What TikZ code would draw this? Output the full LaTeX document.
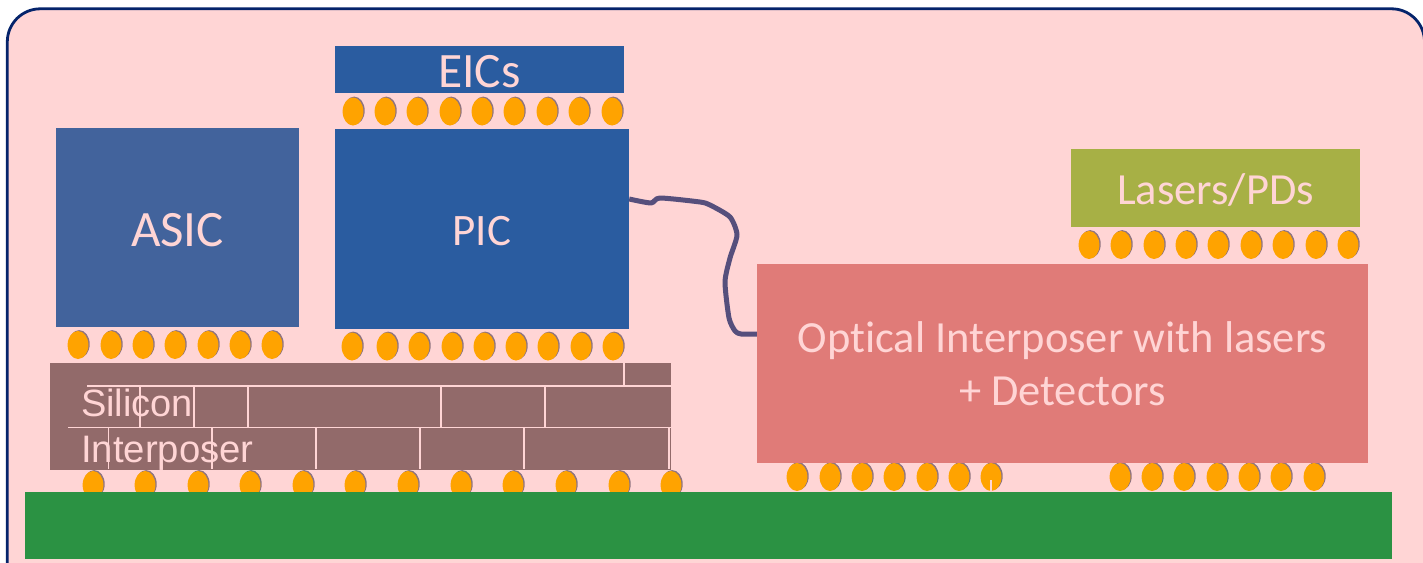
\documentclass[tikz,border=0pt]{standalone}
\usepackage{fontspec}
\setmainfont{Carlito}[Ligatures=NoCommon]
\newfontfamily\arialfont{Liberation Sans}
\usetikzlibrary{calc}
\definecolor{panelpink}{HTML}{FFD5D5}
\definecolor{panelblue}{HTML}{05246B}
\definecolor{asicblue}{HTML}{42639C}
\definecolor{picblue}{HTML}{2A5CA0}
\definecolor{laserolive}{HTML}{A7B045}
\definecolor{opticalred}{HTML}{E07B78}
\definecolor{siliconbrown}{HTML}{926A6A}
\definecolor{boardgreen}{HTML}{2B9243}
\definecolor{bumporange}{HTML}{FFA300}
\definecolor{bumpshade}{HTML}{8F7480}
\definecolor{wireviolet}{HTML}{564F7C}
\tikzset{
  chip/.style={inner sep=0pt,text=panelpink},
  seam/.style={draw=panelpink,line width=1.2pt},
  wire/.style={draw=wireviolet,line width=5pt,line join=round}
}
\newcommand{\bumprow}[2]{%
  \foreach \x in {#2} {
    \fill[bumpshade] (\x+1.2,#1-0.9) ellipse (10.5pt and 14pt);
    \fill[bumporange] (\x,#1) ellipse (10.4pt and 14pt);
  }}
\begin{document}
\begin{tikzpicture}[x=1pt,y=-1pt]
  \useasboundingbox (0,0) rectangle (1423,562);
  \draw[draw=panelblue,fill=panelpink,line width=2.8pt,rounded corners=33pt] (7.3,8.8) rectangle (1424.5,600);

  % solder bumps
  \bumprow{111.5}{353,385,417,450,482,514,547,579,612}
  \bumprow{345}{78,111,143,175,208,240,272}
  \bumprow{346.5}{352,387,419,452,484,516,548,581,613}
  \bumprow{245}{1089,1121,1154,1186,1218,1251,1283,1316,1348}
  \bumprow{485}{93,145,198,250,303,355,408,461,513,566,619,671}
  \bumprow{477}{797,830,862,894,927,959,991,1120,1152,1184,1217,1249,1281,1314}

  % chips
  \node[chip,fill=picblue,minimum width=289pt,minimum height=47pt,text height=36pt,text depth=0pt,font=\fontsize{49.5}{49.5}\selectfont] (eics) at (479.5,69.5) {EICs};
  \node[chip,fill=asicblue,minimum width=243pt,minimum height=199pt,text height=37pt,text depth=0pt,font=\fontsize{51}{51}\selectfont] (asic) at (177.5,227.5) {ASIC};
  \node[chip,fill=picblue,minimum width=294pt,minimum height=200pt,text height=33pt,text depth=0pt,font=\fontsize{45}{45}\selectfont] (pic) at (482,229) {PIC};
  \node[chip,fill=laserolive,minimum width=289pt,minimum height=78pt,text height=33pt,text depth=0pt,font=\fontsize{44.5}{44.5}\selectfont] (lasers) at (1215.5,188) {Lasers/PDs};
  \node[chip,fill=opticalred,minimum width=611pt,minimum height=199pt,align=center,font=\fontsize{44.5}{53}\selectfont] (optical) at (1062.5,363.5) {Optical Interposer with lasers\\+ Detectors};
  \node[chip,fill=siliconbrown,minimum width=621pt,minimum height=107pt] (silicon) at (360.5,416.5) {};
  \node[inner sep=0pt,fill=boardgreen,minimum width=1367pt,minimum height=67pt] (board) at (708.5,525.5) {};

  % silicon interposer seams
  \draw[seam] (87,386) -- (671,386);
  \draw[seam] (68,427.5) -- (671,427.5);
  \draw[seam] (624,363) -- (624,385);
  \foreach \x in {140,194,248,441,545}
    \draw[seam] (\x,386) -- (\x,427);
  \foreach \x in {108.5,212,316,420,524,669}
    \draw[seam] (\x,428) -- (\x,469);
  \draw[seam] (161,452) -- (161,469);
  \draw[seam] (991,480) -- (991,491);

  \node[anchor=base west,inner sep=0pt,text=panelpink,font=\arialfont\fontsize{38}{38}\selectfont] (siliconlabel) at (81,416) {Silicon};
  \node[anchor=base west,inner sep=0pt,text=panelpink,font=\arialfont\fontsize{38.3}{38}\selectfont] (interposerlabel) at (81,462) {Interposer};

  % fibre
  \coordinate (picport) at (pic.east |- 0,199);
  \coordinate (opticalport) at (optical.west |- 0,334);
  \draw[wire] plot[smooth,tension=0.4] coordinates {(picport) (651,203) (660,198) (700,202) (710,205) (730,217) (737,235) (730,258) (725,282) (729,318) (735,331) (741,334) (opticalport)};
\end{tikzpicture}
\end{document}
